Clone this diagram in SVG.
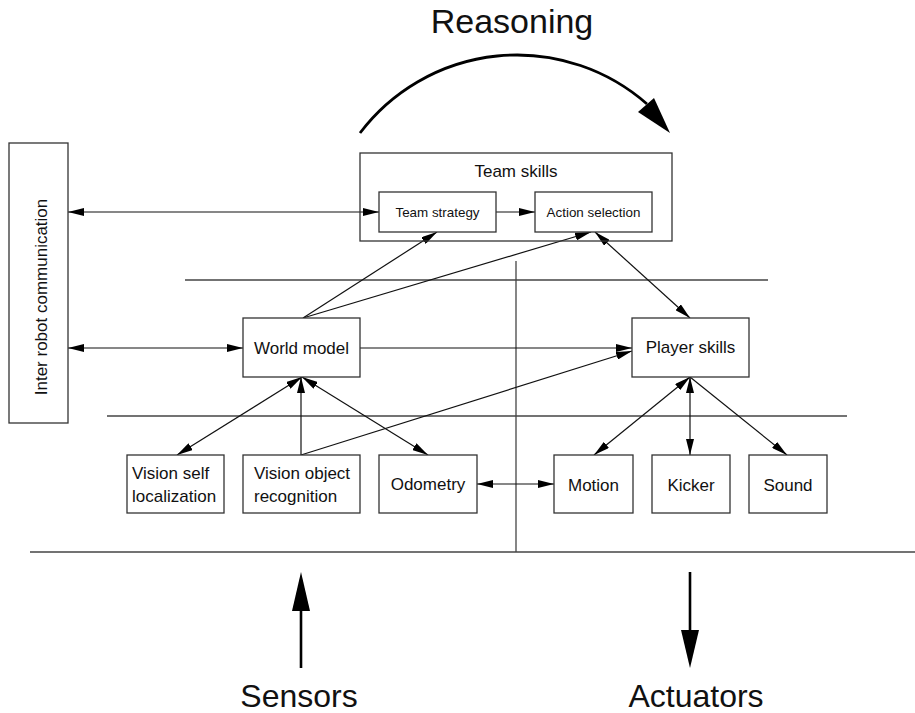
<svg xmlns="http://www.w3.org/2000/svg" width="915" height="713" viewBox="0 0 915 713">
  <style>
    .box { fill: #fff; stroke: #333; stroke-width: 1.3; }
    .sep { stroke: #444; stroke-width: 1.3; fill: none; }
    .con { stroke: #111; stroke-width: 1.2; fill: none; }
    .big { stroke: #000; stroke-width: 2.8; fill: none; }
    .head { fill: #000; }
    text { font-family: "Liberation Sans", Arial, sans-serif; fill: #111; }
    .lbl { font-size: 17px; }
    .c { text-anchor: middle; }
    .small { font-size: 13.4px; }
    .title { font-size: 33px; text-anchor: middle; }
  </style>
  <defs>
    <marker id="arr" viewBox="0 0 16 8" refX="16" refY="4" markerWidth="16" markerHeight="8" markerUnits="userSpaceOnUse" orient="auto-start-reverse">
      <path d="M0,0 L16,4 L0,8 z" fill="#000"/>
    </marker>
  </defs>

  <!-- layer separators -->
  <g id="separators">
    <line class="sep" x1="185" y1="280" x2="768" y2="280"/>
    <line class="sep" x1="107" y1="416" x2="847" y2="416"/>
    <line class="sep" x1="30" y1="552" x2="915" y2="552"/>
    <line class="sep" x1="516" y1="261" x2="516" y2="552"/>
  </g>

  <!-- reasoning loop -->
  <g id="reasoning">
    <text class="title" x="512" y="33" style="font-size:34px">Reasoning</text>
    <path class="big" d="M360,133 A197,197 0 0 1 647,104"/>
    <polygon class="head" points="670,133 638,112 654,98"/>
  </g>

  <!-- sensors / actuators -->
  <g id="sensors">
    <line class="big" x1="301" y1="668" x2="301" y2="608" style="stroke-width:2.6"/>
    <polygon class="head" points="301,572 292,611 310,611"/>
    <text class="title" x="299" y="707" style="font-size:32px">Sensors</text>
  </g>
  <g id="actuators">
    <line class="big" x1="690" y1="572" x2="690" y2="633" style="stroke-width:2.6"/>
    <polygon class="head" points="690,668 681,630 699,630"/>
    <text class="title" x="696" y="707" style="font-size:32px">Actuators</text>
  </g>

  <!-- connectors -->
  <g id="connectors">
    <line class="con" x1="68" y1="212" x2="379" y2="212" marker-start="url(#arr)" marker-end="url(#arr)"/>
    <line class="con" x1="68" y1="348" x2="243" y2="348" marker-start="url(#arr)" marker-end="url(#arr)"/>
    <line class="con" x1="496" y1="212" x2="535" y2="212" marker-end="url(#arr)"/>
    <line class="con" x1="303" y1="318" x2="437" y2="232" marker-end="url(#arr)"/>
    <line class="con" x1="303" y1="318" x2="591" y2="232" marker-end="url(#arr)"/>
    <line class="con" x1="595" y1="232" x2="690" y2="318" marker-start="url(#arr)" marker-end="url(#arr)"/>
    <line class="con" x1="360" y1="348" x2="632" y2="348" marker-end="url(#arr)"/>
    <line class="con" x1="301" y1="455" x2="632" y2="351" marker-end="url(#arr)"/>
    <line class="con" x1="301" y1="455" x2="301" y2="377" marker-end="url(#arr)"/>
    <line class="con" x1="177" y1="455" x2="302" y2="377" marker-start="url(#arr)" marker-end="url(#arr)"/>
    <line class="con" x1="428" y1="455" x2="302" y2="377" marker-start="url(#arr)" marker-end="url(#arr)"/>
    <line class="con" x1="477" y1="484" x2="554" y2="484" marker-start="url(#arr)" marker-end="url(#arr)"/>
    <line class="con" x1="690" y1="377" x2="594" y2="455" marker-start="url(#arr)" marker-end="url(#arr)"/>
    <line class="con" x1="690" y1="377" x2="690" y2="455" marker-start="url(#arr)" marker-end="url(#arr)"/>
    <line class="con" x1="690" y1="377" x2="787" y2="455" marker-end="url(#arr)"/>
  </g>

  <!-- nodes -->
  <g id="inter-robot-communication">
    <rect class="box" x="9" y="143" width="59" height="280"/>
    <text class="lbl c" transform="translate(47,297) rotate(-90)">Inter robot communication</text>
  </g>

  <g id="team-skills">
    <rect class="box" x="360" y="153" width="312" height="88" style="fill:none"/>
    <text class="lbl c" x="516" y="177">Team skills</text>
  </g>
  <g id="team-strategy">
    <rect class="box" x="379" y="192" width="117" height="40"/>
    <text class="small c" x="437.5" y="217">Team strategy</text>
  </g>
  <g id="action-selection">
    <rect class="box" x="535" y="192" width="117" height="40"/>
    <text class="small c" x="593.5" y="217">Action selection</text>
  </g>

  <g id="world-model">
    <rect class="box" x="243" y="318" width="117" height="59"/>
    <text class="lbl c" x="301.5" y="354">World model</text>
  </g>
  <g id="player-skills">
    <rect class="box" x="632" y="318" width="117" height="59"/>
    <text class="lbl c" x="690.5" y="353">Player skills</text>
  </g>

  <g id="vision-self-localization">
    <rect class="box" x="127" y="455" width="97" height="58"/>
    <text class="lbl" x="132" y="479">Vision self</text>
    <text class="lbl" x="132" y="502">localization</text>
  </g>
  <g id="vision-object-recognition">
    <rect class="box" x="243" y="455" width="117" height="58"/>
    <text class="lbl" x="254" y="479">Vision object</text>
    <text class="lbl" x="254" y="502">recognition</text>
  </g>
  <g id="odometry">
    <rect class="box" x="379" y="455" width="98" height="58"/>
    <text class="lbl c" x="428" y="490">Odometry</text>
  </g>
  <g id="motion">
    <rect class="box" x="554" y="455" width="79" height="58"/>
    <text class="lbl c" x="593.5" y="491">Motion</text>
  </g>
  <g id="kicker">
    <rect class="box" x="652" y="455" width="78" height="58"/>
    <text class="lbl c" x="691" y="491">Kicker</text>
  </g>
  <g id="sound">
    <rect class="box" x="749" y="455" width="78" height="58"/>
    <text class="lbl c" x="788" y="491">Sound</text>
  </g>
</svg>
